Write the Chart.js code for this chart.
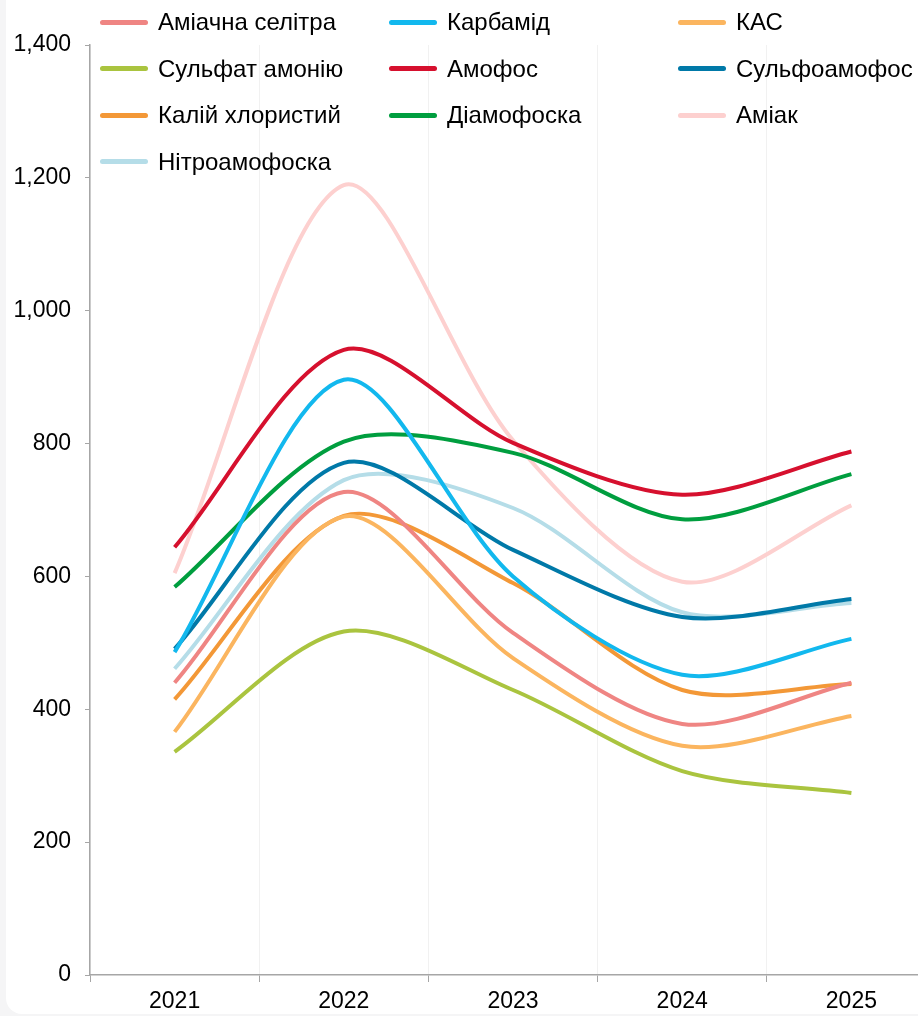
<!DOCTYPE html>
<html>
<head>
<meta charset="utf-8">
<script src="https://cdn.jsdelivr.net/npm/chart.js@4.4.1/dist/chart.umd.min.js"></script>
<style>
    html, body { margin: 0; padding: 0; width: 918px; height: 1016px; overflow: hidden; background: #f5f5f6; }
    #card { position: absolute; left: 6px; top: -30px; width: 960px; height: 1044px; background: #fff; border-radius: 16px; }
    #wrap { position: absolute; left: 0; top: 0; width: 950px; height: 1016px; }
    #legend { position: absolute; left: 0; top: 0; width: 918px; height: 200px; pointer-events: none; }
    .item { position: absolute; height: 26px; display: flex; align-items: center; white-space: nowrap;
            font-family: 'Liberation Sans', Arial, sans-serif; font-size: 24px; color: #000; }
    .item span.swatch { display: inline-block; width: 48px; height: 5px; border-radius: 3px; margin-right: 10px; }
</style>
</head>
<body>
<div id="card"></div>
<div id="wrap"><canvas id="fertilizerPricesChart" width="950" height="1016"></canvas></div>
<div id="legend"></div>
<script>
    'use strict';

    var years = ['2021', '2022', '2023', '2024', '2025'];
    var yTicks = [0, 200, 400, 600, 800, 1000, 1200, 1400];

    var names = ['Аміачна селітра', 'Карбамід', 'КАС', 'Сульфат амонію', 'Амофос',
                 'Сульфоамофос', 'Калій хлористий', 'Діамофоска', 'Аміак', 'Нітроамофоска'];

    var amiachnaSelitra = [440, 727, 515, 378, 440];
    var karbamid        = [486, 896, 600, 452, 506];
    var kas             = [366, 690, 477, 345, 390];
    var sulfatAmoniyu   = [336, 517, 429, 307, 274];
    var amofos          = [644, 941, 801, 723, 788];
    var sulfoamofos     = [491, 771, 640, 539, 566];
    var kaliyKhlorystyi = [415, 691, 590, 429, 438];
    var diamofoska      = [584, 803, 786, 686, 754];
    var amiak           = [605, 1189, 805, 592, 707];
    var nitroamofoska   = [461, 745, 703, 546, 560];

    var series = [amiachnaSelitra, karbamid, kas, sulfatAmoniyu, amofos,
                  sulfoamofos, kaliyKhlorystyi, diamofoska, amiak, nitroamofoska];

    var lineColors = ['#ef8583', '#12b8ee', '#fbb55f', '#aac43f', '#d6102e',
                      '#0079a8', '#f39837', '#009e3f', '#fdd0cf', '#b5dde8'];

    var fontFamily = "'Liberation Sans', Arial, sans-serif";
    var axisColor = '#a6a6a6';

    // html legend, 3 columns
    var legend = document.getElementById('legend');
    names.forEach(function(name, i) {
        var el = document.createElement('div');
        el.className = 'item';
        el.style.left = (100 + (i % 3) * 289) + 'px';
        el.style.top = (9 + Math.floor(i / 3) * 46.5) + 'px';
        el.innerHTML = '<span class="swatch" style="background:' + lineColors[i] + '"></span>' + name;
        legend.appendChild(el);
    });

    new Chart(document.getElementById('fertilizerPricesChart'), {
        type: 'line',
        data: {
            labels: years,
            datasets: series.map(function(values, i) {
                return {
                    label: names[i],
                    data: values,
                    borderColor: lineColors[i],
                    backgroundColor: lineColors[i],
                    borderWidth: 4,
                    pointRadius: 0,
                    tension: 0.3,
                    fill: false
                };
            })
        },
        options: {
            responsive: false,
            animation: false,
            layout: { padding: { top: 45, right: 14, left: 0, bottom: 0 } },
            plugins: {
                legend: { display: false },
                tooltip: { enabled: false }
            },
            scales: {
                x: {
                    offset: true,
                    grid: {
                        display: true,
                        offset: true,
                        color: '#f1f1f1',
                        tickColor: axisColor,
                        tickLength: 7
                    },
                    border: { color: axisColor, width: 1.5 },
                    ticks: {
                        color: '#000',
                        padding: 6,
                        maxRotation: 0,
                        font: { size: 23, family: fontFamily }
                    },
                    afterFit: function(scale) { scale.height = 41; }
                },
                y: {
                    min: 0,
                    max: 1400,
                    afterBuildTicks: function(scale) {
                        scale.ticks = yTicks.map(function(v) { return { value: v }; });
                    },
                    grid: {
                        display: true,
                        drawOnChartArea: false,
                        tickColor: axisColor,
                        tickLength: 5
                    },
                    border: { color: axisColor, width: 1.5 },
                    ticks: {
                        color: '#000',
                        padding: 14,
                        font: { size: 23, family: fontFamily },
                        callback: function(value) { return value.toLocaleString('en-US'); }
                    },
                    afterFit: function(scale) { scale.width = 90; }
                }
            }
        }
    });
</script>
</body>
</html>
